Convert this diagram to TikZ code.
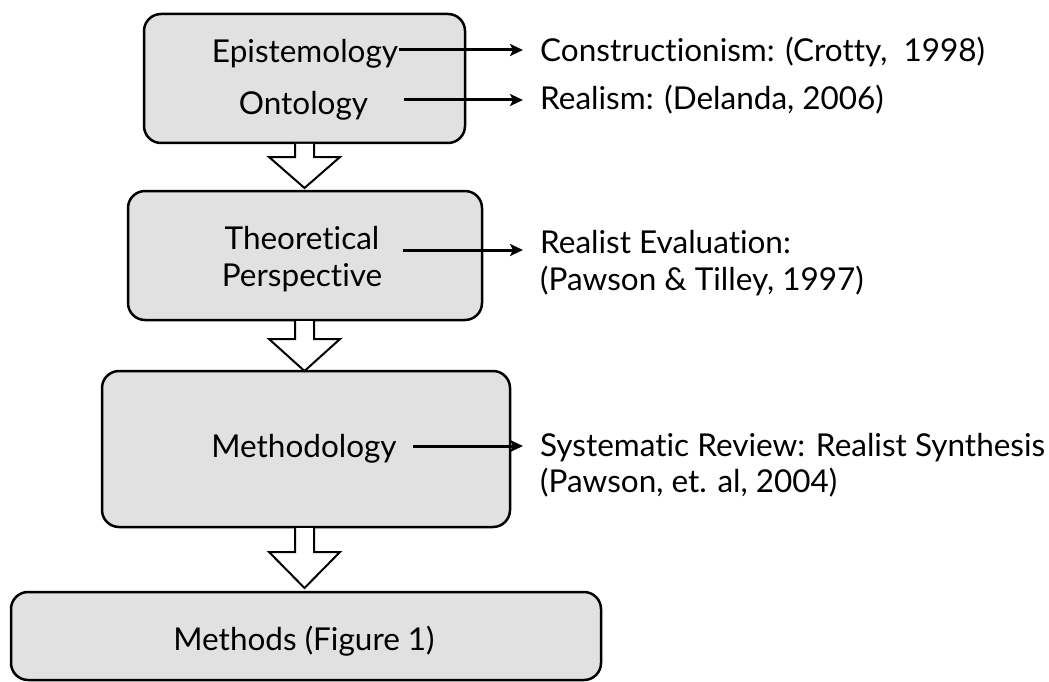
\documentclass[tikz,border=0pt]{standalone}
\usepackage{fontspec}
\setmainfont{Lato}[Ligatures=NoCommon]
\usetikzlibrary{arrows.meta}
\newcommand\blkarrow[4]{%
  \draw[blockarrow] (#1-9.5,#2) -- (#1-9.5,#3) -- (#1-35.5,#3) -- (#1,#4) -- (#1+35.5,#3) -- (#1+9.5,#3) -- (#1+9.5,#2);}
\begin{document}
\begin{tikzpicture}[x=1pt,y=-1pt,
  box/.style={draw=black,line width=2.5pt,fill=boxgray,rounded corners=17pt,inner sep=0pt},
  txt/.style={inner sep=0pt,font=\fontsize{31.5}{38}\selectfont},
  rtxt/.style={txt,anchor=base west},
  ctxt/.style={txt,anchor=base},
  ptr/.style={line width=3pt,shorten >=17pt,-{Stealth[length=13pt,width=12pt,inset=3pt]}},
  blockarrow/.style={draw=black,line width=2pt,fill=white,line join=miter}
]
\definecolor{boxgray}{HTML}{E1E1E1}
\useasboundingbox (0,0) rectangle (1049,682);
% boxes
\node[box,minimum width=321pt,minimum height=129pt] (b1) at (304.5,78.5) {};
\node[box,minimum width=354pt,minimum height=129pt] (b2) at (305,255.5) {};
\node[box,minimum width=408pt,minimum height=156pt] (b3) at (306,449) {};
\node[box,minimum width=590pt,minimum height=88pt] (b4) at (306,636) {};
% block arrows
\blkarrow{304.5}{144}{157}{188}
\blkarrow{304.5}{321}{339}{371}
\blkarrow{304.5}{528}{552}{588}
% box texts
\node[ctxt] (epi) at (305,63) {Epistemology};
\node[ctxt] (ont) at (303.5,114) {Ontology};
\node[ctxt] (theo) at (302,249) {Theoretical};
\node[ctxt] (pers) at (302,286) {Perspective};
\node[ctxt] (meth) at (304,457) {Methodology};
\node[ctxt] (mths) at (304,650) {Methods (Figure 1)};
% right texts
\node[rtxt] (cons) at (540,62) {Constructionism: (Crotty,\ \ 1998)};
\node[rtxt] (real) at (540,110) {Realism: (Delanda, 2006)};
\node[rtxt] (reva) at (540,253) {Realist Evaluation:};
\node[rtxt] (pt) at (540,290) {(Pawson \& Tilley, 1997)};
\node[rtxt] (sys) at (540,456) {Systematic Review: Realist Synthesis};
\node[rtxt] (pea) at (540,492) {(Pawson, et. al, 2004)};
% connector start points
\coordinate (es) at (399,50);
\coordinate (os) at (404,100);
\coordinate (ts) at (403,250);
\coordinate (ms) at (413,446);
\draw[ptr] (es) -- (es -| cons.west);
\draw[ptr] (os) -- (os -| real.west);
\draw[ptr] (ts) -- (ts -| reva.west);
\draw[ptr] (ms) -- (ms -| sys.west);
\end{tikzpicture}
\end{document}
